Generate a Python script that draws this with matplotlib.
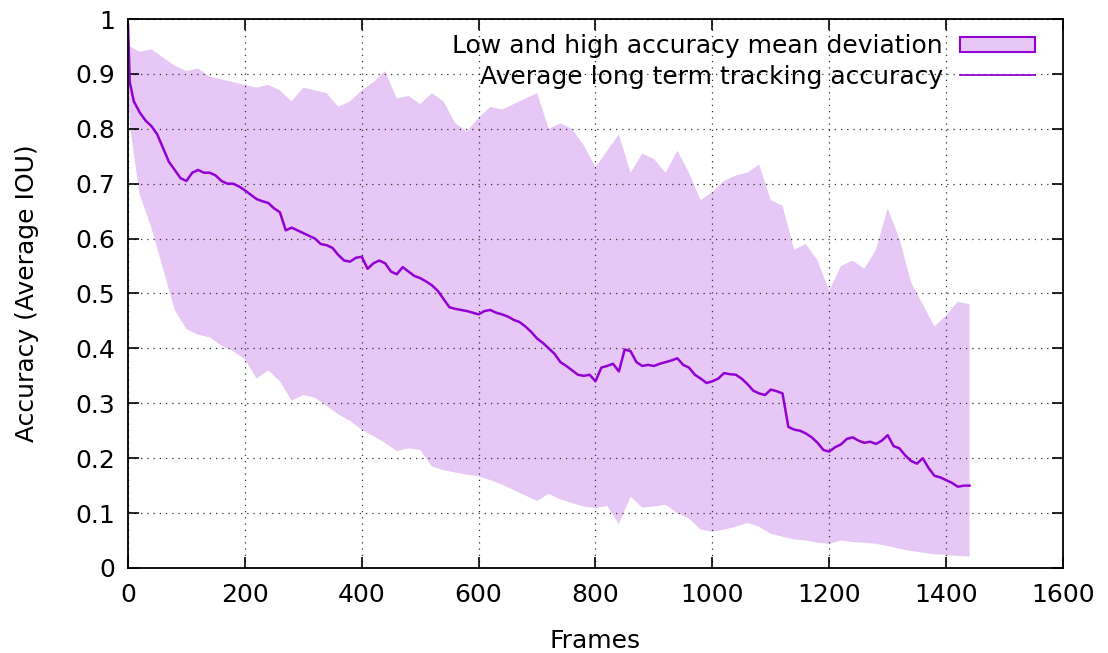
import numpy as np
import matplotlib.pyplot as plt
from matplotlib.ticker import MultipleLocator, FuncFormatter
from matplotlib.patches import Patch
from matplotlib.lines import Line2D

# mean accuracy, read every 10 frames (plus the first sharp drop)
mean_frames = [0, 3] + list(range(10, 1450, 10))
mean_acc = [
    0.99, 0.885, 0.85, 0.83, 0.815, 0.805, 0.79, 0.765, 0.74, 0.725, 0.71,
    0.705, 0.72, 0.725, 0.72, 0.72, 0.715, 0.705, 0.70, 0.70, 0.695,
    0.688, 0.68, 0.672, 0.668, 0.665, 0.655, 0.648, 0.615, 0.62, 0.615,
    0.61, 0.605, 0.60, 0.59, 0.588, 0.583, 0.57, 0.56, 0.558, 0.565,
    0.567, 0.545, 0.555, 0.56, 0.555, 0.54, 0.535, 0.548, 0.54, 0.532,
    0.528, 0.522, 0.515, 0.505, 0.49, 0.475, 0.472, 0.47, 0.468, 0.465,
    0.462, 0.468, 0.47, 0.465, 0.462, 0.458, 0.452, 0.448, 0.44, 0.43,
    0.418, 0.41, 0.40, 0.39, 0.375, 0.368, 0.36, 0.352, 0.35, 0.352,
    0.34, 0.365, 0.368, 0.372, 0.358, 0.398, 0.395, 0.375, 0.368, 0.37,
    0.368, 0.372, 0.375, 0.378, 0.382, 0.37, 0.365, 0.352, 0.345, 0.337,
    0.34, 0.345, 0.355, 0.353, 0.352, 0.345, 0.335, 0.323, 0.318, 0.315,
    0.325, 0.322, 0.318, 0.257, 0.252, 0.25, 0.245, 0.238, 0.228, 0.215,
    0.212, 0.22, 0.225, 0.235, 0.238, 0.232, 0.228, 0.23, 0.226, 0.232,
    0.242, 0.222, 0.218, 0.205, 0.195, 0.19, 0.2, 0.182, 0.168, 0.165,
    0.16, 0.155, 0.148, 0.15, 0.15,
]

# low / high deviation band, read every 20 frames (plus the first drop)
band_frames = [0, 4] + list(range(20, 1450, 20))
high_acc = [
    0.97, 0.95, 0.94, 0.945, 0.93, 0.915, 0.905, 0.91, 0.895, 0.89, 0.885,
    0.88, 0.875, 0.88, 0.87, 0.85, 0.875, 0.87, 0.865, 0.84, 0.85,
    0.87, 0.885, 0.905, 0.855, 0.86, 0.845, 0.865, 0.85, 0.81, 0.795,
    0.82, 0.84, 0.835, 0.845, 0.855, 0.865, 0.80, 0.81, 0.80, 0.77,
    0.73, 0.76, 0.79, 0.72, 0.755, 0.745, 0.72, 0.76, 0.72, 0.67,
    0.685, 0.705, 0.715, 0.72, 0.735, 0.67, 0.66, 0.58, 0.59, 0.56,
    0.505, 0.55, 0.56, 0.545, 0.58, 0.655, 0.60, 0.52, 0.48, 0.44,
    0.46, 0.485, 0.48,
]
low_acc = [
    0.86, 0.80, 0.68, 0.62, 0.545, 0.47, 0.435, 0.425, 0.42, 0.405, 0.395,
    0.38, 0.345, 0.36, 0.34, 0.305, 0.315, 0.31, 0.295, 0.28, 0.268,
    0.252, 0.24, 0.228, 0.213, 0.218, 0.215, 0.185, 0.178, 0.174, 0.17,
    0.167, 0.16, 0.152, 0.142, 0.132, 0.122, 0.135, 0.125, 0.118, 0.112,
    0.109, 0.113, 0.08, 0.13, 0.11, 0.112, 0.115, 0.10, 0.09, 0.07,
    0.066, 0.07, 0.075, 0.082, 0.075, 0.062, 0.057, 0.052, 0.05, 0.046,
    0.044, 0.05, 0.047, 0.046, 0.044, 0.04, 0.035, 0.031, 0.028, 0.025,
    0.024, 0.022, 0.021,
]

line_color = '#9400d3'

plt.rcParams['font.family'] = 'DejaVu Sans'
plt.rcParams['font.size'] = 18

fig = plt.figure(figsize=(11.08, 6.53), dpi=100)
ax = fig.add_axes([0.1155, 0.1302, 0.9594 - 0.1155, 0.9709 - 0.1302])

ax.fill_between(band_frames, low_acc, high_acc, facecolor=line_color, alpha=0.22,
                edgecolor='none', zorder=1)
ax.plot(mean_frames, mean_acc, color=line_color, lw=1.8, zorder=3)

ax.set_xlim(0, 1600)
ax.set_ylim(0, 1)
ax.xaxis.set_major_locator(MultipleLocator(200))
ax.yaxis.set_major_locator(MultipleLocator(0.1))
ax.yaxis.set_major_formatter(FuncFormatter(lambda v, p: '%g' % round(v, 2)))
ax.tick_params(direction='in', length=8, width=1.2, top=True, right=True)
ax.tick_params(axis='x', pad=11)
ax.tick_params(axis='y', pad=9)

ax.set_axisbelow(False)
ax.grid(True, linestyle=(0, (1, 4)), color='#333333', lw=0.9, zorder=2)
for s in ax.spines.values():
    s.set_linewidth(1.3)
    s.set_zorder(4)

ax.set_xlabel('Frames', labelpad=16)
ax.set_ylabel('Accuracy (Average IOU)', labelpad=26)

# legend like gnuplot: text right aligned, sample on the right
handles = [Patch(facecolor='#e7c8f5', edgecolor=line_color, lw=1.5),
           Line2D([], [], color=line_color, lw=1.3)]
labels = ['Low and high accuracy mean deviation',
          'Average long term tracking accuracy']
leg = ax.legend(handles, labels, loc='upper right', bbox_to_anchor=(0.970, 0.972),
                frameon=False, markerfirst=False,
                handlelength=3.0, handleheight=0.6, handletextpad=0.68,
                labelspacing=0.25, borderaxespad=0, borderpad=0)
leg._legend_handle_box.get_children()[0].align = 'right'
leg.set_zorder(5)

fig.savefig('out.png', dpi=100)
